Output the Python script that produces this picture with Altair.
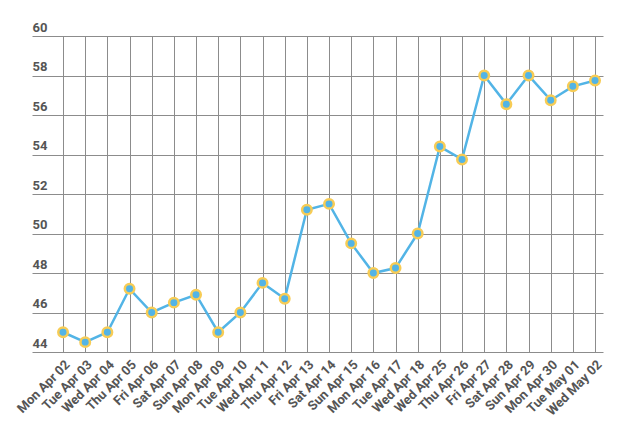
import altair as alt
import pandas as pd

labels = ["Mon Apr 02", "Tue Apr 03", "Wed Apr 04", "Thu Apr 05", "Fri Apr 06",
          "Sat Apr 07", "Sun Apr 08", "Mon Apr 09", "Tue Apr 10", "Wed Apr 11",
          "Thu Apr 12", "Fri Apr 13", "Sat Apr 14", "Sun Apr 15", "Mon Apr 16",
          "Tue Apr 17", "Wed Apr 18", "Wed Apr 25", "Thu Apr 26", "Fri Apr 27",
          "Sat Apr 28", "Sun Apr 29", "Mon Apr 30", "Tue May 01", "Wed May 02"]
values = [45.0, 44.5, 45.0, 47.2, 46.0, 46.5, 46.9, 45.0, 46.0, 47.5,
          46.7, 51.2, 51.5, 49.5, 48.0, 48.25, 50.0, 54.4, 53.75, 58.0,
          56.55, 58.0, 56.75, 57.45, 57.75]
y_ticks = [44, 46, 48, 50, 52, 54, 56, 58, 60]

df = pd.DataFrame({"idx": list(range(len(labels))), "label": labels, "value": values})

n = len(labels)
label_arr = "[" + ",".join("'" + s + "'" for s in labels) + "]"

font = "Roboto"
txt = "#555555"

x = alt.X("idx:Q",
          scale=alt.Scale(domain=[-1.4, n - 1 + 0.36], nice=False, zero=False),
          axis=alt.Axis(values=list(range(n)), labelExpr=label_arr + "[datum.value]",
                        labelAngle=-45, labelAlign="right", labelBaseline="top",
                        labelPadding=6, labelFontSize=13, labelFont=font,
                        labelFontWeight="bold", labelColor=txt, ticks=False,
                        domain=False, grid=True, gridColor="#8c8c8c",
                        gridWidth=1, title=None, labelOverlap=False, labelFlush=False))
y = alt.Y("value:Q",
          scale=alt.Scale(domain=[44, 60], nice=False, zero=False),
          axis=alt.Axis(values=y_ticks, labelAlign="left", labelBaseline="bottom",
                        labelPadding=0, labelOffset=-2, labelFontSize=13, labelFont=font,
                        labelFontWeight="bold", labelColor=txt, ticks=False,
                        domain=False, grid=True, gridColor="#8c8c8c", gridWidth=1,
                        title=None, labelFlush=False, labelOverlap=False))

line = alt.Chart(df).mark_line(color="#52b4e6", strokeWidth=2.5).encode(x=x, y=y)
pts = alt.Chart(df).mark_point(filled=True, fill="#52b4e6", stroke="#f7cc55",
                               strokeWidth=2.5, size=90, opacity=1).encode(x=x, y=y)

chart = alt.layer(line, pts).properties(
    width=571, height=316,
    autosize=alt.AutoSizeParams(type="none"),
    padding={"left": 24, "top": 28, "right": 10, "bottom": 75},
).configure_view(stroke=None)

chart.save("out.html", embed_options={"renderer": "svg", "actions": False})
